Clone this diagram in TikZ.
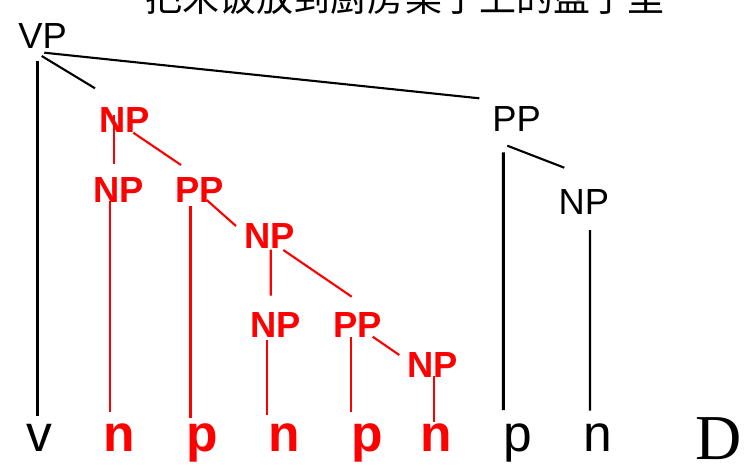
\documentclass[tikz,border=0pt]{standalone}
\usepackage{fontspec}
\setmainfont{Liberation Sans}
\newfontfamily\serifD{Liberation Serif}
\newfontfamily\cjk{Noto Sans CJK SC}
\usepackage{xcolor}
\begin{document}
\begin{tikzpicture}[x=0.03cm, y=-0.03cm,
			 etiqueta/.style={anchor=base, inner sep=0pt, font=\fontsize{31}{36}\selectfont},
			 etiquetaroja/.style={etiqueta, red, font=\fontsize{31}{36}\selectfont\bfseries},
			 hoja/.style={anchor=base, inner sep=0pt, font=\fontsize{44}{52}\selectfont},
			 hojaroja/.style={hoja, red, font=\fontsize{44}{52}\selectfont\bfseries},
			 rama/.style={line width=1.8pt},
			 ramagruesa/.style={line width=2.5pt}
  		]
	\useasboundingbox (0,0) rectangle (754,470);

	%Frase de arriba
		\node[anchor=base, inner sep=0pt, font=\cjk\fontsize{31.6}{37}\selectfont] (frase) at (405,11) {把米饭放到厨房桌子上的盘子里};

	%Creamos los nodos
		\node[etiqueta] (vp) at (42.5,48) {VP};
		\node[etiquetaroja] (np1) at (124.5,132) {NP};
		\node[etiquetaroja] (np2) at (118.5,202) {NP};
		\node[etiquetaroja] (pp1) at (199.5,202) {PP};
		\node[etiquetaroja] (np3) at (270,248) {NP};
		\node[etiquetaroja] (np4) at (276,337) {NP};
		\node[etiquetaroja] (pp2) at (357.3,337) {PP};
		\node[etiquetaroja] (np5) at (432.5,377) {NP};
		\node[etiqueta] (pp3) at (516.7,131) {PP};
		\node[etiqueta] (np6) at (583.8,214) {NP};

	%Hojas
		\node[hoja] (v) at (39,451) {v};
		\node[hojaroja] (n1) at (118.8,451) {n};
		\node[hojaroja] (p1) at (202.5,451) {p};
		\node[hojaroja] (n2) at (284.5,451) {n};
		\node[hojaroja] (p2) at (367.5,451) {p};
		\node[hojaroja] (n3) at (436.5,451) {n};
		\node[hoja] (p3) at (518.3,451) {p};
		\node[hoja] (n4) at (598,451) {n};
		\node[anchor=base, inner sep=0pt, font=\serifD\fontsize{54.6}{64}\selectfont] (d) at (718.3,459) {D};

	%Ramas negras
		\draw[ramagruesa] ([shift={(-4.8,13)}]vp.base) -- ([shift={(-1.3,-35)}]v.base);
		\draw[rama] ([shift={(-0.8,8)}]vp.base) -- ([shift={(-29.5,-43.7)}]np1.base);
		\draw[rama] ([shift={(1.8,4.7)}]vp.base) -- ([shift={(-37.4,-32.7)}]pp3.base);
		\draw[ramagruesa] ([shift={(-13.4,21.3)}]pp3.base) -- ([shift={(-15,-41)}]p3.base);
		\draw[rama] ([shift={(-9.4,14.7)}]pp3.base) -- ([shift={(-19.5,-46.3)}]np6.base);
		\draw[rama] ([shift={(6.2,16)}]np6.base) -- ([shift={(-8,-40.3)}]n4.base);
	%Ramas rojas
		\draw[rama, red] ([shift={(-10.2,-17)}]np1.base) -- ([shift={(-4.2,-37.7)}]np2.base);
		\draw[rama, red] ([shift={(8.8,0.7)}]np1.base) -- ([shift={(-18.5,-37)}]pp1.base);
		\draw[rama, red] ([shift={(-8.5,-1)}]np2.base) -- ([shift={(-8.8,-38.7)}]n1.base);
		\draw[ramagruesa, red] ([shift={(-8.8,4)}]pp1.base) -- ([shift={(-11.8,-33.3)}]p1.base);
		\draw[rama, red] ([shift={(7.2,-2)}]pp1.base) -- ([shift={(-34,-22)}]np3.base);
		\draw[rama, red] ([shift={(0.7,1.5)}]np3.base) -- ([shift={(-5.3,-41.3)}]np4.base);
		\draw[rama, red] ([shift={(13.3,2)}]np3.base) -- ([shift={(-5.6,-40.3)}]pp2.base);
		\draw[rama, red] ([shift={(-9.3,3)}]np4.base) -- ([shift={(-17.8,-36)}]n2.base);
		\draw[ramagruesa, red] ([shift={(-6.3,0)}]pp2.base) -- ([shift={(-16.5,-38.7)}]p2.base);
		\draw[rama, red] ([shift={(15.4,-0.3)}]pp2.base) -- ([shift={(-33.2,-22)}]np5.base);
		\draw[rama, red] ([shift={(1.5,-1)}]np5.base) -- ([shift={(-2.5,-29.3)}]n3.base);
	\end{tikzpicture}
\end{document}
